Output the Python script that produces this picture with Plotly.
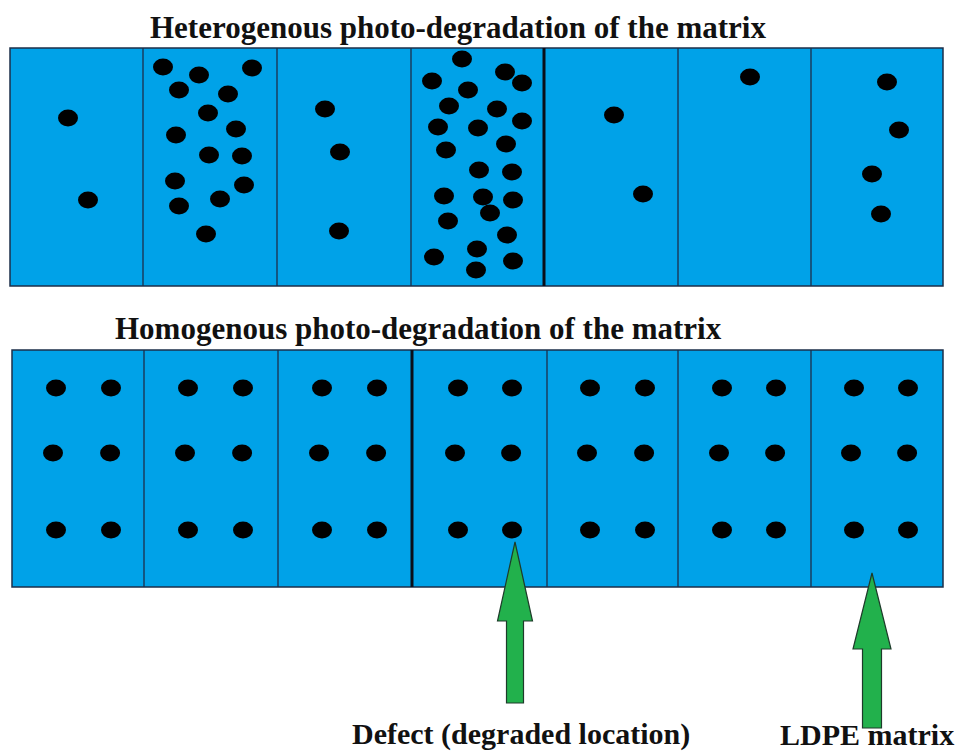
import plotly.graph_objects as go

# ---- data (in canvas units) ----
top_edges = [10, 143, 277, 411, 544, 678, 811, 943]
top_y = [48, 286]
top_thick = [544]
bot_edges = [12, 144, 278, 412, 547, 678, 811, 943]
bot_y = [350, 587]
bot_thick = [412]

hetero_x = [68, 88,
            163, 199, 252, 179, 228, 208, 236, 176, 209, 242, 175, 244, 220, 179, 206,
            325, 340, 339,
            462, 432, 468, 449, 438, 446, 444, 448, 434, 505, 522, 497, 522, 478, 506,
            479, 512, 483, 513, 490, 507, 477, 513, 476,
            614, 643,
            750,
            887, 899, 872, 881]
hetero_y = [118, 200,
            67, 75, 68, 90, 94, 113, 129, 135, 155, 156, 181, 185, 199, 206, 234,
            109, 152, 231,
            59, 81, 90, 106, 127, 150, 196, 221, 257, 72, 83, 109, 121, 128, 144,
            170, 172, 197, 200, 213, 235, 249, 261, 270,
            115, 194,
            77,
            82, 130, 174, 214]

homo_left_x = [56, 188, 322, 458, 590, 722, 854]
homo_right_x = [111, 243, 377, 512, 645, 776, 908]
homo_rows_y = [388, 453, 530]
homo_row_shift = [0, -3, 0]

arrows = [
    # tip_x, tip_y, head_base_y, head_half, shaft_half, bottom_y
    (515, 542, 621, 17.5, 8.5, 703),
    (872, 573, 649, 19, 9.5, 728),
]

titles = ["Heterogenous photo-degradation of the matrix",
          "Homogenous photo-degradation of the matrix"]
title_pos = [(458, 27), (418, 328)]
labels = ["Defect (degraded location)", "LDPE matrix"]
label_pos = [(521, 734), (867, 734)]

# ---- styles ----
BLUE = "#00A2E8"
EDGE = "#1c2f4a"
GREEN = "#22B14C"
DOT_W, DOT_H = 20, 17
TITLE_FONT = dict(family="Liberation Serif", size=31, color="#111111", weight="bold")
LABEL_FONT = dict(family="Liberation Serif", size=30, color="#111111", weight="bold")

shapes = []
for edges, (y0, y1), thick in [(top_edges, top_y, top_thick), (bot_edges, bot_y, bot_thick)]:
    shapes.append(dict(type="rect", xref="x", yref="y", x0=edges[0], x1=edges[-1],
                       y0=y0, y1=y1, fillcolor=BLUE, line=dict(color=EDGE, width=1.5),
                       layer="below"))
    for e in edges[1:-1]:
        w = 3 if e in thick else 1.3
        c = "#0a0f1a" if e in thick else EDGE
        shapes.append(dict(type="line", xref="x", yref="y", x0=e, x1=e, y0=y0, y1=y1,
                           line=dict(color=c, width=w)))


def dot(cx, cy):
    return dict(type="circle", xref="x", yref="y",
                x0=cx - DOT_W / 2, x1=cx + DOT_W / 2,
                y0=cy - DOT_H / 2, y1=cy + DOT_H / 2,
                fillcolor="black", line=dict(width=0))


for cx, cy in zip(hetero_x, hetero_y):
    shapes.append(dot(cx, cy))

for lx, rx in zip(homo_left_x, homo_right_x):
    for ry, sh in zip(homo_rows_y, homo_row_shift):
        shapes.append(dot(lx + sh, ry))
        shapes.append(dot(rx + sh * 0.3, ry))

for tx, ty, hb, hh, sh, by in arrows:
    path = (f"M {tx},{ty} L {tx + hh},{hb} L {tx + sh},{hb} L {tx + sh},{by} "
            f"L {tx - sh},{by} L {tx - sh},{hb} L {tx - hh},{hb} Z")
    shapes.append(dict(type="path", xref="x", yref="y", path=path,
                       fillcolor=GREEN, line=dict(color="#1e3b2a", width=1.2)))

annotations = []
for t, (x, y) in zip(titles, title_pos):
    annotations.append(dict(x=x, y=y, xref="x", yref="y", text=t, showarrow=False,
                            font=TITLE_FONT))
for t, (x, y) in zip(labels, label_pos):
    annotations.append(dict(x=x, y=y, xref="x", yref="y", text=t, showarrow=False,
                            font=LABEL_FONT, borderpad=0))

fig = go.Figure()
fig.add_trace(go.Scatter(x=[0, 960], y=[0, 753], mode="markers",
                         marker=dict(opacity=0), hoverinfo="skip", showlegend=False))
fig.update_layout(
    width=960, height=753, margin=dict(l=0, r=0, t=0, b=0),
    paper_bgcolor="white", plot_bgcolor="white",
    xaxis=dict(range=[0, 960], visible=False, fixedrange=True),
    yaxis=dict(range=[753, 0], visible=False, fixedrange=True),
    shapes=shapes, annotations=annotations, showlegend=False,
)
fig.write_html("out.html", config={"displayModeBar": False},
               post_script="document.body.style.margin='0';document.body.style.overflow='hidden';")
